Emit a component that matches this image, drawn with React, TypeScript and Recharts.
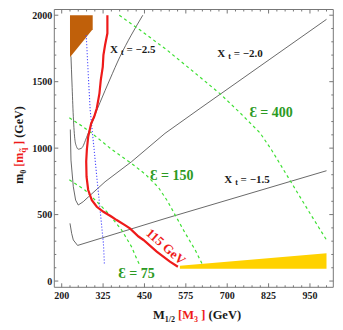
import React from "react";
import { ComposedChart, Line, Area, XAxis, YAxis, ReferenceDot } from "recharts";

const xLabels = [200, 325, 450, 575, 700, 825, 950];
const yLabels = [0, 500, 1000, 1500, 2000];
const xMinor = Array.from({ length: 33 }, (_, i) => 200 + i * 25);
const yMinor = Array.from({ length: 21 }, (_, i) => i * 100);

// m_h = 115 GeV contour
const higgs115 = [
  { x: 338, y: 2000 }, { x: 338, y: 1864 }, { x: 331, y: 1776 }, { x: 326, y: 1700 },
  { x: 324, y: 1612 }, { x: 318, y: 1512 }, { x: 314, y: 1412 }, { x: 306, y: 1300 },
  { x: 298, y: 1236 }, { x: 289, y: 1187 }, { x: 280, y: 1086 }, { x: 276, y: 990 },
  { x: 274, y: 900 }, { x: 275, y: 785 }, { x: 280, y: 685 }, { x: 291, y: 609 },
  { x: 306, y: 559 }, { x: 326, y: 521 }, { x: 351, y: 484 }, { x: 366, y: 459 },
  { x: 391, y: 421 }, { x: 406, y: 396 }, { x: 432, y: 335 }, { x: 447, y: 309 },
  { x: 487, y: 221 }, { x: 527, y: 146 }, { x: 551, y: 108 },
];

const blueDotted = [
  { x: 274, y: 1850 }, { x: 280, y: 1560 }, { x: 286, y: 1287 }, { x: 296, y: 1036 },
  { x: 306, y: 785 }, { x: 316, y: 534 }, { x: 326, y: 284 }, { x: 329, y: 120 },
];

const xt25 = [
  { x: 228, y: 1690 }, { x: 231, y: 1490 }, { x: 235, y: 1240 }, { x: 240, y: 1060 },
  { x: 245, y: 1010 }, { x: 250, y: 992 }, { x: 260, y: 1000 }, { x: 275, y: 1080 },
  { x: 291, y: 1185 }, { x: 306, y: 1285 }, { x: 316, y: 1345 }, { x: 346, y: 1520 },
  { x: 376, y: 1688 }, { x: 410, y: 1850 }, { x: 445, y: 2000 },
];

const xt20 = [
  { x: 226, y: 1140 }, { x: 228, y: 910 }, { x: 235, y: 710 }, { x: 242, y: 609 },
  { x: 250, y: 572 }, { x: 265, y: 597 }, { x: 281, y: 634 }, { x: 331, y: 747 },
  { x: 411, y: 898 }, { x: 512, y: 1111 }, { x: 618, y: 1299 }, { x: 1000, y: 1969 },
];

const xt15 = [
  { x: 225, y: 434 }, { x: 230, y: 359 }, { x: 235, y: 309 }, { x: 248, y: 268 },
  { x: 512, y: 470 }, { x: 1000, y: 830 },
];

const eps75 = [
  { x: 223, y: 762 }, { x: 270, y: 685 }, { x: 311, y: 585 }, { x: 341, y: 509 },
  { x: 381, y: 384 }, { x: 411, y: 258 }, { x: 427, y: 165 }, { x: 436, y: 120 },
];

const eps150 = [
  { x: 223, y: 1228 }, { x: 260, y: 1168 }, { x: 291, y: 1112 }, { x: 351, y: 990 },
  { x: 411, y: 885 }, { x: 452, y: 805 }, { x: 492, y: 705 }, { x: 520, y: 600 },
  { x: 542, y: 500 }, { x: 572, y: 365 }, { x: 603, y: 235 }, { x: 626, y: 120 },
];

const eps400 = [
  { x: 374, y: 2000 }, { x: 436, y: 1890 }, { x: 517, y: 1740 }, { x: 598, y: 1575 },
  { x: 678, y: 1410 }, { x: 739, y: 1265 }, { x: 799, y: 1115 }, { x: 834, y: 986 },
  { x: 900, y: 715 }, { x: 950, y: 510 }, { x: 1000, y: 309 },
];

const brownRegion = [
  { x: 225, r: [1684, 2000] },
  { x: 293.6, r: [1895, 2000] },
];

const yellowRegion = [
  { x: 557, r: [92, 116] },
  { x: 1000, r: [92, 210] },
];

const xtLabels = [
  { x: 346, y: 1715, text: "−2.5" },
  { x: 670, y: 1688, text: "−2.0" },
  { x: 691, y: 735, text: "−1.5" },
];

const epsLabels = [
  { x: 767, y: 1236, text: "400" },
  { x: 467, y: 760, text: "150" },
  { x: 371, y: 20, text: "75" },
];

const FONT = "'Liberation Serif', 'Times New Roman', serif";
const FRAME = "#777";
const GRAY = "#444";
const GREEN = "#3fe034";
const GREEN_TEXT = "#2c9a24";
const RED = "#ee1a1a";

const tick = (side: string) => (props: any) => {
  const { x, y, payload } = props;
  const v = payload.value;
  const major = side === "bottom" || side === "top" ? xLabels.includes(v) : yLabels.includes(v);
  const len = major ? 4 : 2;
  let line;
  if (side === "bottom") line = <line x1={x} x2={x} y1={y} y2={y - len} stroke={FRAME} />;
  else if (side === "top") line = <line x1={x} x2={x} y1={y} y2={y + len} stroke={FRAME} />;
  else if (side === "left") line = <line x1={x} x2={x + len} y1={y} y2={y} stroke={FRAME} />;
  else line = <line x1={x} x2={x - len} y1={y} y2={y} stroke={FRAME} />;
  return (
    <g>
      {line}
      {major && side === "bottom" && (
        <text x={x} y={y + 12} textAnchor="middle" fontFamily={FONT} fontWeight="bold" fontSize={10} fill="#1a1a1a">
          {v}
        </text>
      )}
      {major && side === "left" && (
        <text x={x - 2} y={y + 3.5} textAnchor="end" fontFamily={FONT} fontWeight="bold" fontSize={10} fill="#1a1a1a">
          {v}
        </text>
      )}
    </g>
  );
};

const xtContent = (text: string) => (p: any) => {
  const { x, y } = p.viewBox;
  return (
    <text x={x} y={y} fontFamily={FONT} fontWeight="bold" fontSize={11} fill="#1a1a1a">
      X<tspan fontSize={8} dx={3} dy={2}>t</tspan>
      <tspan dy={-2}> = {text}</tspan>
    </text>
  );
};

const epsContent = (text: string) => (p: any) => {
  const { x, y } = p.viewBox;
  return (
    <text x={x} y={y} fontFamily={FONT} fontWeight="bold" fontSize={14} fill={GREEN_TEXT}>
      Ɛ = {text}
    </text>
  );
};

const higgsContent = (p: any) => {
  const { x, y } = p.viewBox;
  return (
    <text
      x={x}
      y={y}
      textAnchor="middle"
      dominantBaseline="central"
      transform={`rotate(41.6 ${x} ${y})`}
      fontFamily={FONT}
      fontWeight="bold"
      fontSize={13}
      fill={RED}
    >
      115 GeV
    </text>
  );
};

export default function App() {
  return (
    <div style={{ position: "absolute", left: 0, top: 0, width: 343, height: 330, background: "#fff" }}>
      <ComposedChart
        width={343}
        height={330}
        margin={{ top: 8.5, right: 8.7, bottom: 41.7, left: 53.3 }}
      >
        <XAxis
          type="number"
          dataKey="x"
          domain={[177.6, 1020.5]}
          allowDataOverflow
          ticks={xMinor}
          interval={0}
          height={1}
          tickSize={0}
          tickMargin={0}
          tickLine={false}
          axisLine={{ stroke: FRAME }}
          tick={tick("bottom")}
        />
        <XAxis
          xAxisId="top"
          orientation="top"
          type="number"
          dataKey="x"
          domain={[177.6, 1020.5]}
          allowDataOverflow
          ticks={xMinor}
          interval={0}
          height={1}
          tickSize={0}
          tickMargin={0}
          tickLine={false}
          axisLine={{ stroke: FRAME }}
          tick={tick("top")}
        />
        <YAxis
          type="number"
          domain={[-47, 2043]}
          allowDataOverflow
          ticks={yMinor}
          interval={0}
          width={1}
          tickSize={0}
          tickMargin={0}
          tickLine={false}
          axisLine={{ stroke: FRAME }}
          tick={tick("left")}
        />
        <YAxis
          yAxisId="right"
          orientation="right"
          type="number"
          domain={[-47, 2043]}
          allowDataOverflow
          ticks={yMinor}
          interval={0}
          width={1}
          tickSize={0}
          tickMargin={0}
          tickLine={false}
          axisLine={{ stroke: FRAME }}
          tick={tick("right")}
        />

        <Area data={brownRegion} dataKey="r" type="linear" stroke="none" fill="#c0600a" fillOpacity={1} isAnimationActive={false} />
        <Area data={yellowRegion} dataKey="r" type="linear" stroke="none" fill="#ffd200" fillOpacity={1} isAnimationActive={false} />

        <Line data={xt25} dataKey="y" type="monotone" stroke={GRAY} strokeWidth={0.8} dot={false} isAnimationActive={false} />
        <Line data={xt20} dataKey="y" type="linear" stroke={GRAY} strokeWidth={0.8} dot={false} isAnimationActive={false} />
        <Line data={xt15} dataKey="y" type="linear" stroke={GRAY} strokeWidth={0.8} dot={false} isAnimationActive={false} />

        <Line data={eps75} dataKey="y" type="linear" stroke={GREEN} strokeWidth={1.2} strokeDasharray="3 3" dot={false} isAnimationActive={false} />
        <Line data={eps150} dataKey="y" type="linear" stroke={GREEN} strokeWidth={1.2} strokeDasharray="3 3" dot={false} isAnimationActive={false} />
        <Line data={eps400} dataKey="y" type="linear" stroke={GREEN} strokeWidth={1.2} strokeDasharray="3 3" dot={false} isAnimationActive={false} />

        <Line data={blueDotted} dataKey="y" type="linear" stroke="#4a4aff" strokeWidth={1.1} strokeDasharray="1.2 1.8" dot={false} isAnimationActive={false} />
        <Line data={higgs115} dataKey="y" type="linear" stroke={RED} strokeWidth={2.2} dot={false} isAnimationActive={false} />

        {xtLabels.map((l) => (
          <ReferenceDot key={l.text} x={l.x} y={l.y} r={0} fill="none" stroke="none" label={{ content: xtContent(l.text) }} />
        ))}
        {epsLabels.map((l) => (
          <ReferenceDot key={l.text} x={l.x} y={l.y} r={0} fill="none" stroke="none" label={{ content: epsContent(l.text) }} />
        ))}
        <ReferenceDot x={515} y={260} r={0} fill="none" stroke="none" label={{ content: higgsContent }} />
      </ComposedChart>

      <svg width={343} height={330} style={{ position: "absolute", left: 0, top: 0, pointerEvents: "none" }}>
        <text x={197} y={319} textAnchor="middle" fontFamily={FONT} fontWeight="bold" fontSize={12.5} fill="#1a1a1a">
          M<tspan fontSize={8} dy={3}>1/2</tspan>
          <tspan dy={-3} fill={RED}> [M</tspan>
          <tspan fontSize={8} dy={3} fill={RED}>3</tspan>
          <tspan dy={-3} fill={RED}> ]</tspan>
          <tspan> (GeV)</tspan>
        </text>
        <text
          transform="translate(23,145) rotate(-90)"
          textAnchor="middle"
          fontFamily={FONT}
          fontWeight="bold"
          fontSize={12}
          fill="#1a1a1a"
        >
          m<tspan fontSize={8} dy={3}>0</tspan>
          <tspan dy={-3} fill={RED}> [m</tspan>
          <tspan fontSize={9} dy={3} fill={RED}>q̃</tspan>
          <tspan dy={-3} fill={RED}> ]</tspan>
          <tspan> (GeV)</tspan>
        </text>
      </svg>
    </div>
  );
}
